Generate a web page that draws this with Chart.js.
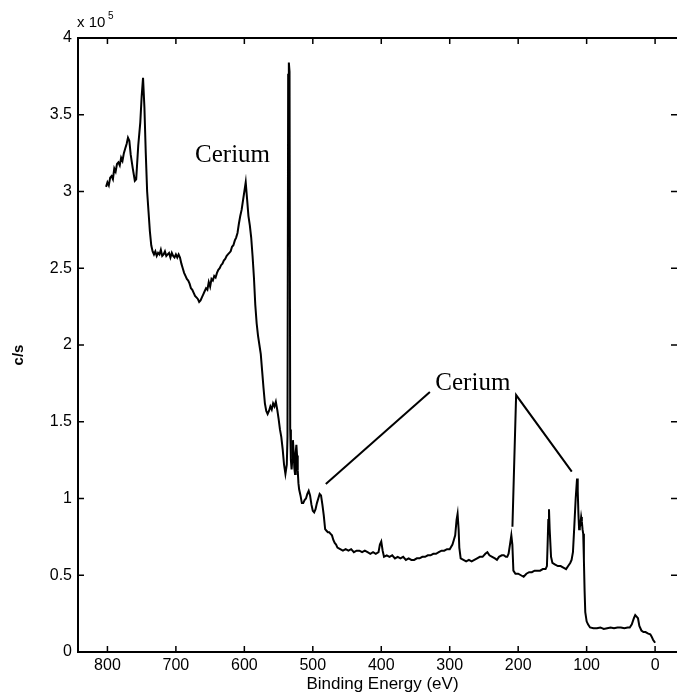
<!DOCTYPE html>
<html>
<head>
<meta charset="utf-8">
<script src="https://cdn.jsdelivr.net/npm/chart.js@4.4.0/dist/chart.umd.min.js"></script>
<style>
  html, body { margin: 0; padding: 0; background: #fff; }
  canvas { display: block; }
</style>
</head>
<body>
<canvas id="spectrum" width="677" height="694"></canvas>
<script>
// survey spectrum: binding energy (eV) vs intensity in units of 10^5 c/s
var energy = [
  802, 800, 798, 796, 794, 792, 790, 788, 786, 784, 782, 780, 778, 776, 774, 772, 770, 768, 766, 763,
  760, 758, 755, 752, 750, 748, 746, 744, 742, 740,
  738, 736, 734, 732, 730, 728, 726, 724, 722, 720, 718, 716, 714, 712, 710, 708, 706, 704, 702, 700,
  698, 696, 694, 692, 690, 688, 686, 684, 682, 680, 678, 676, 674, 672, 670, 668, 666, 664, 662, 660,
  658, 656, 654, 652, 650, 648, 646, 644, 642, 640, 638, 636, 634, 632, 630, 628, 626, 624, 622, 620,
  618, 616, 614, 612, 610, 608, 606, 604, 602, 600,
  598, 596, 594, 592, 590, 588, 586, 584, 582, 580, 578, 576, 574, 572, 570, 568, 566, 564, 562, 560,
  558, 556, 554, 552, 550, 548, 546, 544, 542, 540,
  538, 537, 536, 535, 534, 533, 532, 531, 530, 529, 528, 527, 526, 525, 524, 523, 522, 521, 520, 518,
  516, 514, 512, 510, 508, 506, 504, 502, 500, 498, 496, 494, 492, 490, 488, 486, 484, 482, 480, 478,
  476, 474, 472, 470, 468, 466, 464,
  460, 456, 452, 448, 444, 440, 436, 432, 428, 424, 420, 416, 412, 408, 404, 402, 400, 398, 396, 392,
  388, 384, 380, 376, 372, 368, 364, 360, 356, 352, 348, 344, 340, 336, 332, 328, 324, 320, 316, 312,
  308, 304, 300, 296, 294, 292, 290, 288.5, 287, 286, 284, 280, 276, 272, 268, 264, 260, 256, 252, 248,
  245, 242, 238, 234, 231, 228, 224, 221, 218, 216, 214, 212, 210, 208.5, 207, 204, 200, 196, 192, 188,
  184, 180, 176, 172, 168, 164, 160, 158, 157, 156, 155, 154, 152, 150, 146, 142, 138, 134, 130, 127,
  124, 122, 120, 118, 116, 114, 113, 112, 111, 110, 109, 108, 107, 106, 105, 104, 103, 102, 100, 98,
  95, 90, 85, 80, 75, 70, 65, 60, 55, 50, 45, 40, 37, 34, 31, 29, 27, 25, 23, 20,
  17, 14, 10, 7, 5, 3, 0
];
var counts = [
  3.03, 3.06, 3.04, 3.09, 3.10, 3.08, 3.15, 3.13, 3.18, 3.19, 3.17, 3.22, 3.20, 3.25, 3.28, 3.31, 3.35, 3.33, 3.24, 3.15,
  3.07, 3.08, 3.30, 3.45, 3.62, 3.74, 3.55, 3.25, 3.00, 2.87,
  2.74, 2.65, 2.61, 2.59, 2.61, 2.58, 2.60, 2.59, 2.62, 2.58, 2.59, 2.61, 2.58, 2.59, 2.60, 2.57, 2.60, 2.58, 2.57, 2.59,
  2.57, 2.59, 2.57, 2.53, 2.50, 2.47, 2.45, 2.43, 2.42, 2.40, 2.37, 2.36, 2.34, 2.32, 2.31, 2.30, 2.28, 2.29, 2.31, 2.33,
  2.35, 2.37, 2.36, 2.41, 2.38, 2.43, 2.42, 2.45, 2.44, 2.47, 2.49, 2.50, 2.52, 2.53, 2.55, 2.56, 2.58, 2.59, 2.60, 2.61,
  2.64, 2.65, 2.68, 2.70, 2.73, 2.79, 2.84, 2.88, 2.94, 3.00,
  3.06, 2.95, 2.84, 2.78, 2.70, 2.58, 2.44, 2.26, 2.14, 2.06, 2.00, 1.94, 1.83, 1.72, 1.62, 1.57, 1.55, 1.57, 1.60, 1.58,
  1.62, 1.60, 1.63, 1.58, 1.52, 1.45, 1.40, 1.32, 1.22, 1.16,
  1.22, 1.40, 3.76, 3.84, 3.78, 1.45, 1.25, 1.19, 1.25, 1.38, 1.30, 1.20, 1.16, 1.30, 1.35, 1.28, 1.18, 1.10, 1.06, 1.02,
  0.97, 0.97, 0.99, 1.00, 1.03, 1.05, 1.02, 0.96, 0.92, 0.91, 0.93, 0.97, 1.00, 1.03, 1.02, 0.96, 0.89, 0.80, 0.79, 0.78,
  0.78, 0.77, 0.76, 0.73, 0.71, 0.70, 0.68,
  0.67, 0.66, 0.67, 0.66, 0.67, 0.65, 0.66, 0.66, 0.65, 0.66, 0.65, 0.64, 0.65, 0.64, 0.65, 0.70, 0.72, 0.66, 0.62, 0.63,
  0.62, 0.63, 0.61, 0.62, 0.61, 0.62, 0.60, 0.61, 0.60, 0.60, 0.61, 0.61, 0.62, 0.62, 0.63, 0.63, 0.64, 0.64, 0.65, 0.66,
  0.66, 0.67, 0.67, 0.70, 0.73, 0.76, 0.86, 0.90, 0.80, 0.68, 0.61, 0.60, 0.59, 0.60, 0.59, 0.60, 0.61, 0.62, 0.62, 0.64,
  0.65, 0.63, 0.62, 0.61, 0.60, 0.62, 0.63, 0.63, 0.62, 0.62, 0.64, 0.70, 0.76, 0.70, 0.53, 0.51, 0.51, 0.50, 0.49, 0.51,
  0.52, 0.52, 0.53, 0.53, 0.53, 0.54, 0.54, 0.56, 0.70, 0.86, 0.93, 0.80, 0.62, 0.58, 0.57, 0.56, 0.56, 0.55, 0.54, 0.56,
  0.58, 0.60, 0.65, 0.82, 1.00, 1.13, 1.05, 0.90, 0.80, 0.81, 0.84, 0.88, 0.85, 0.80, 0.77, 0.60, 0.40, 0.26, 0.20, 0.18,
  0.16, 0.155, 0.155, 0.16, 0.15, 0.155, 0.16, 0.155, 0.16, 0.16, 0.155, 0.16, 0.16, 0.18, 0.22, 0.24, 0.23, 0.22, 0.17, 0.14,
  0.13, 0.13, 0.12, 0.115, 0.10, 0.08, 0.06
];

var xTicks = [0, 100, 200, 300, 400, 500, 600, 700, 800];
var yTicks = [0, 0.5, 1, 1.5, 2, 2.5, 3, 3.5, 4];

// "Cerium" labels (left edge, baseline) and pointer lines, in data units
var labels = [
  { text: 'Cerium', x: 672, y: 3.19 },
  { text: 'Cerium', x: 321, y: 1.71 }
];
var pointers = [
  [[481, 1.094], [329, 1.694]],
  [[208.4, 0.816], [203, 1.674], [121.7, 1.175]]
];

var points = [];
for (var i = 0; i < energy.length; i++) {
  points.push({ x: energy[i], y: counts[i] });
}

var frame = {
  id: 'frame',
  afterDraw: function(chart) {
    var ctx = chart.ctx;
    var a = chart.chartArea;
    var xs = chart.scales.x, ys = chart.scales.y;
    ctx.save();
    ctx.strokeStyle = '#000';
    ctx.fillStyle = '#000';

    // box
    ctx.lineWidth = 2;
    ctx.beginPath();
    ctx.moveTo(a.right, a.top);
    ctx.lineTo(a.left, a.top);
    ctx.lineTo(a.left, a.bottom);
    ctx.lineTo(a.right, a.bottom);
    ctx.stroke();

    // inward ticks on all four sides
    ctx.lineWidth = 1.5;
    ctx.beginPath();
    xTicks.forEach(function(v) {
      var px = xs.getPixelForValue(v);
      ctx.moveTo(px, a.bottom); ctx.lineTo(px, a.bottom - 6);
      ctx.moveTo(px, a.top); ctx.lineTo(px, a.top + 6);
    });
    yTicks.forEach(function(v) {
      var py = ys.getPixelForValue(v);
      ctx.moveTo(a.left, py); ctx.lineTo(a.left + 6, py);
      ctx.moveTo(a.right, py); ctx.lineTo(a.right - 6, py);
    });
    ctx.stroke();

    // pointer lines
    ctx.lineWidth = 2;
    pointers.forEach(function(line) {
      ctx.beginPath();
      line.forEach(function(p, k) {
        var px = xs.getPixelForValue(p[0]), py = ys.getPixelForValue(p[1]);
        if (k === 0) ctx.moveTo(px, py); else ctx.lineTo(px, py);
      });
      ctx.stroke();
    });

    ctx.font = '25px "Liberation Serif", "Times New Roman", serif';
    ctx.textAlign = 'left';
    ctx.textBaseline = 'alphabetic';
    labels.forEach(function(l) {
      ctx.fillText(l.text, xs.getPixelForValue(l.x), ys.getPixelForValue(l.y));
    });

    // axis titles and exponent
    ctx.font = '17px "Liberation Sans", Arial, sans-serif';
    ctx.textAlign = 'center';
    ctx.fillText('Binding Energy (eV)', (a.left + a.right) / 2 + 5, 689);

    ctx.save();
    ctx.translate(23, 355);
    ctx.rotate(-Math.PI / 2);
    ctx.font = 'bold 15px "Liberation Sans", Arial, sans-serif';
    ctx.fillText('c/s', 0, 0);
    ctx.restore();

    ctx.textAlign = 'left';
    ctx.font = '15px "Liberation Sans", Arial, sans-serif';
    ctx.fillText('x 10', 77, 27);
    ctx.font = '10px "Liberation Sans", Arial, sans-serif';
    ctx.fillText('5', 108, 19);
    ctx.restore();
  }
};

new Chart(document.getElementById('spectrum'), {
  type: 'line',
  data: {
    datasets: [{
      data: points,
      borderColor: '#000',
      borderWidth: 2,
      pointRadius: 0,
      tension: 0,
      fill: false
    }]
  },
  options: {
    responsive: false,
    animation: false,
    events: [],
    layout: { padding: { top: 38, right: 0, left: 0, bottom: 0 } },
    plugins: { legend: { display: false }, tooltip: { enabled: false } },
    scales: {
      x: {
        type: 'linear',
        reverse: true,
        min: -32,
        max: 843,
        grid: { display: false, drawTicks: false },
        border: { display: false },
        afterFit: function(s) { s.height = 42; },
        afterBuildTicks: function(s) { s.ticks = xTicks.map(function(v) { return { value: v }; }); },
        ticks: {
          color: '#000',
          padding: 4,
          maxRotation: 0,
          font: { family: '"Liberation Sans", Arial, sans-serif', size: 16 }
        }
      },
      y: {
        min: 0,
        max: 4,
        grid: { display: false, drawTicks: false },
        border: { display: false },
        afterFit: function(s) { s.width = 78; },
        afterBuildTicks: function(s) { s.ticks = yTicks.map(function(v) { return { value: v }; }); },
        ticks: {
          color: '#000',
          padding: 6,
          font: { family: '"Liberation Sans", Arial, sans-serif', size: 16 },
          callback: function(v) { return String(v); }
        }
      }
    }
  },
  plugins: [frame]
});
</script>
</body>
</html>
